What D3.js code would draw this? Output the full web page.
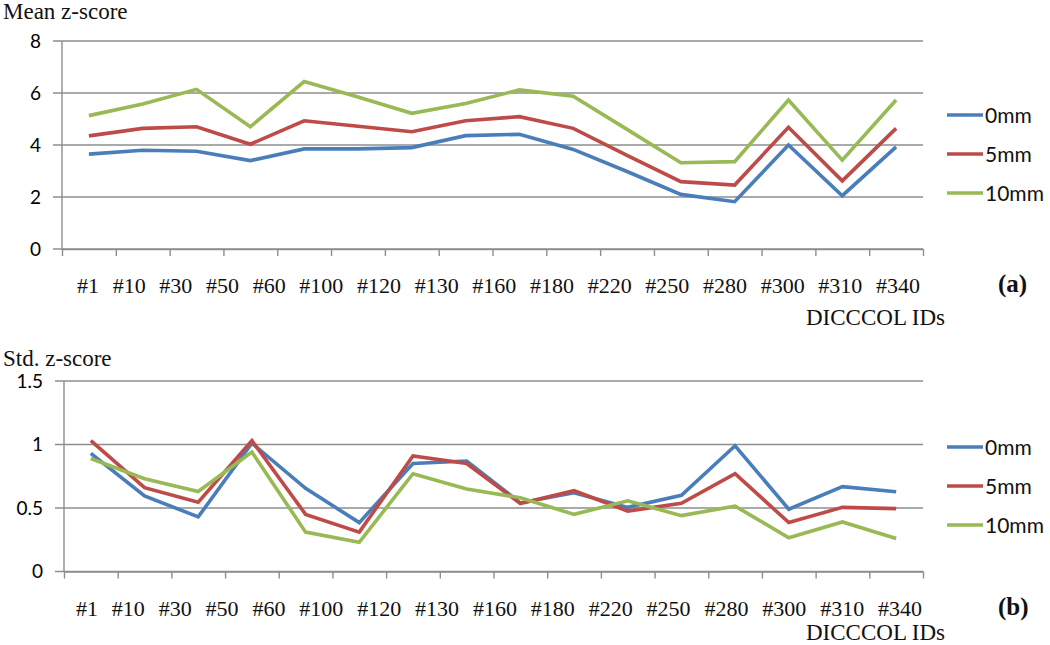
<!DOCTYPE html>
<html>
<head>
<meta charset="utf-8">
<script src="https://cdn.jsdelivr.net/npm/d3@7"></script>
<style>
  body { margin: 0; background: #fff; }
  svg { display: block; }
</style>
</head>
<body>
<script>
// categories (DICCCOL IDs)
var ids = ["#1", "#10", "#30", "#50", "#60", "#100", "#120", "#130", "#160", "#180", "#220", "#250", "#280", "#300", "#310", "#340"]
var seriesNames = ["0mm", "5mm", "10mm"]

// (a) mean z-score
var mean0 = [3.65, 3.80, 3.76, 3.40, 3.85, 3.85, 3.90, 4.36, 4.41, 3.83, 2.98, 2.10, 1.82, 4.00, 2.05, 3.93]
var mean5 = [4.35, 4.64, 4.70, 4.03, 4.93, 4.72, 4.51, 4.93, 5.09, 4.64, 3.60, 2.59, 2.46, 4.68, 2.62, 4.64]
var mean10 = [5.13, 5.58, 6.14, 4.70, 6.44, 5.85, 5.22, 5.60, 6.12, 5.88, 4.60, 3.32, 3.36, 5.73, 3.42, 5.73]
var meanTicks = [0, 2, 4, 6, 8]

// (b) std z-score
var std0 = [0.93, 0.595, 0.43, 1.01, 0.655, 0.385, 0.85, 0.87, 0.54, 0.62, 0.505, 0.60, 0.99, 0.49, 0.668, 0.628]
var std5 = [1.03, 0.66, 0.545, 1.03, 0.45, 0.31, 0.91, 0.85, 0.535, 0.636, 0.476, 0.537, 0.77, 0.385, 0.505, 0.495]
var std10 = [0.89, 0.73, 0.63, 0.94, 0.31, 0.23, 0.77, 0.65, 0.58, 0.45, 0.557, 0.44, 0.515, 0.266, 0.39, 0.26]
var stdTicks = [0, 0.5, 1, 1.5]

var colors = ["#4a7ebb", "#be4b48", "#98b954"]
var gridColor = "#8e8e8e"
var serif = "'Liberation Serif', 'Times New Roman', serif"
var sans = "Lato, 'Open Sans', sans-serif"

var width = 1050, height = 645

var svg = d3.select("body").append("svg").attr("width", width).attr("height", height)

function drawPanel(p) {
	var g = svg.append("g").attr("id", p.id)

	var x = d3.scaleBand().domain(ids).range([p.left, p.right])
	var xi = d3.scaleLinear().domain([0, ids.length]).range([p.left, p.right])
	var y = d3.scaleLinear().domain(p.domain).range([p.bottom, p.top])

	// gridlines (they run past the axis to act as tick marks)
	g.append("g").selectAll("line").data(p.ticks).enter().append("line")
		.attr("x1", p.left - 9).attr("x2", p.right)
		.attr("y1", function(d) { return y(d) }).attr("y2", function(d) { return y(d) })
		.attr("stroke", gridColor).attr("stroke-width", 1.4)

	// y tick labels
	g.append("g").selectAll("text").data(p.ticks).enter().append("text")
		.attr("x", p.left - p.labelGap).attr("y", function(d) { return y(d) })
		.attr("dy", "0.36em").attr("text-anchor", "end")
		.style("font-family", sans).style("font-size", "19px").style("fill", "#000")
		.text(function(d) { return d })

	// vertical axis line
	g.append("line").attr("x1", p.left).attr("x2", p.left)
		.attr("y1", p.top).attr("y2", p.bottom)
		.attr("stroke", gridColor).attr("stroke-width", 1.4)

	// x axis: ticks at the category boundaries
	var xAxis = g.append("g").attr("transform", "translate(0," + p.bottom + ")")
		.call(d3.axisBottom(xi).tickValues(d3.range(ids.length + 1)).tickSize(7).tickSizeOuter(0).tickFormat(""))
	xAxis.selectAll("path, line").attr("stroke", gridColor).attr("stroke-width", 1.4)

	// category labels, set as one spaced row of text
	var row = g.append("text").attr("x", p.labelStart).attr("y", p.bottom + 44)
		.style("font-family", serif).style("font-size", "22px").style("fill", "#111")
		.text(ids.join(" "))
	var natural = row.node().getComputedTextLength()
	row.style("word-spacing", ((p.labelEnd - p.labelStart - natural) / (ids.length - 1)) + "px")

	// series lines
	var line = d3.line()
		.x(function(d, i) { return x(ids[i]) + x.bandwidth() / 2 })
		.y(function(d) { return y(d) })
	p.series.forEach(function(s, k) {
		g.append("path").datum(s).attr("d", line)
			.attr("fill", "none").attr("stroke", colors[k]).attr("stroke-width", 3.6)
			.attr("stroke-linejoin", "miter")
	})

	// legend
	seriesNames.forEach(function(name, k) {
		var ly = p.legendTop + k * 39
		g.append("line").attr("x1", 947).attr("x2", 983).attr("y1", ly).attr("y2", ly)
			.attr("stroke", colors[k]).attr("stroke-width", 3.6)
		g.append("text").attr("x", 985).attr("y", ly).attr("dy", "0.36em")
			.style("font-family", sans).style("font-size", "21px").style("fill", "#111")
			.text(name)
	})

	// titles
	g.append("text").attr("x", 3).attr("y", p.titleY)
		.style("font-family", serif).style("font-size", "23px").style("fill", "#111")
		.text(p.title)
	g.append("text").attr("x", 806).attr("y", p.idsY)
		.style("font-family", serif).style("font-size", "23px").style("fill", "#111")
		.text("DICCCOL IDs")
	g.append("text").attr("x", 998).attr("y", p.bottom + 43)
		.style("font-family", serif).style("font-size", "25px").style("font-weight", "bold").style("fill", "#111")
		.text(p.tag)
}

drawPanel({
	id: "mean_plot", title: "Mean z-score", tag: "(a)",
	left: 62, right: 923, top: 41, bottom: 249,
	domain: [0, 8], ticks: meanTicks, labelGap: 21,
	labelStart: 77, labelEnd: 920, legendTop: 115, titleY: 19, idsY: 325,
	series: [mean0, mean5, mean10]
})

drawPanel({
	id: "std_plot", title: "Std. z-score", tag: "(b)",
	left: 64, right: 923, top: 381, bottom: 571.5,
	domain: [0, 1.5], ticks: stdTicks, labelGap: 21,
	labelStart: 76, labelEnd: 922, legendTop: 447, titleY: 366, idsY: 640,
	series: [std0, std5, std10]
})
</script>
</body>
</html>
